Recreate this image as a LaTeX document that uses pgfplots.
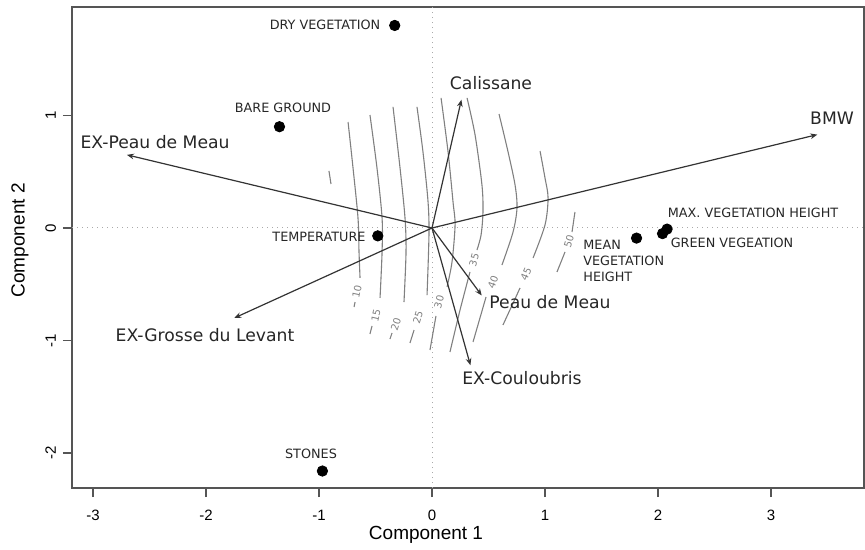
\documentclass[border=0pt]{standalone}
\usepackage{fontspec}
\setmainfont{Liberation Sans}
\newfontfamily\dejavu{DejaVu Sans}
\usepackage{pgfplots}
\pgfplotsset{compat=1.18}
\usetikzlibrary{arrows.meta}
\definecolor{arrowc}{HTML}{333333}
\definecolor{contc}{HTML}{808080}
\definecolor{framec}{HTML}{555555}
\definecolor{dotc}{HTML}{AAAAAA}
\begin{document}
\begin{tikzpicture}
\begin{axis}[
  scale only axis, width=396pt, height=240.5pt,
  xmin=-3.186, xmax=3.823, ymin=-2.311, ymax=1.964,
  axis line style={framec, line width=0.6pt},
  xtick={-3,-2,-1,0,1,2,3}, ytick={-2,-1,0,1},
  xtick pos=bottom, ytick pos=left,
  tick align=outside, major tick length=4.5pt,
  tick style={framec, line width=0.6pt},
  /pgf/number format/assume math mode=true,
  ticklabel style={font=\fontsize{7.5}{9}\selectfont},
  xticklabel style={yshift=-3pt},
  yticklabel style={rotate=90, anchor=south},
  xlabel={Component 1}, ylabel={Component 2},
  label style={font=\fontsize{9.5}{11}\selectfont},
  xlabel style={at={(axis description cs:0.447,-0.0977)}, anchor=center},
  ylabel style={at={(axis description cs:-0.0657,0.515)}, anchor=center},
]
% reference lines
\addplot[dotc, dotted, line width=0.5pt] coordinates {(0,-2.311) (0,1.964)};
\addplot[dotc, dotted, line width=0.5pt] coordinates {(-3.186,0) (3.823,0)};

% contours
\tikzset{cont/.style={contc, line width=0.55pt, smooth}}
\addplot[cont] coordinates {(-0.743,0.942) (-0.699,0.533) (-0.655,0.089) (-0.646,-0.213) (-0.637,-0.444)};
\addplot[cont] coordinates {(-0.681,-0.658) (-0.690,-0.702)};
\addplot[cont] coordinates {(-0.549,1.004) (-0.487,0.533) (-0.442,0.089) (-0.442,-0.213) (-0.460,-0.622)};
\addplot[cont] coordinates {(-0.531,-0.871) (-0.549,-0.942)};
\addplot[cont] coordinates {(-0.345,1.076) (-0.283,0.533) (-0.239,0.089) (-0.230,-0.213) (-0.248,-0.658)};
\addplot[cont] coordinates {(-0.354,-0.933) (-0.372,-0.987)};
\addplot[cont] coordinates {(-0.133,1.076) (-0.080,0.676) (-0.035,0.231) (-0.027,-0.062) (-0.044,-0.596)};
\addplot[cont] coordinates {(-0.159,-0.907) (-0.195,-1.022)};
\addplot[cont] coordinates {(0.080,1.156) (0.142,0.676) (0.186,0.231) (0.204,0.027) (0.177,-0.302) (0.133,-0.524)};
\addplot[cont] coordinates {(0.035,-0.782) (-0.018,-1.084)};
\addplot[cont] coordinates {(0.310,1.156) (0.381,0.827) (0.442,0.382) (0.451,0.142) (0.434,-0.062) (0.398,-0.196)};
\addplot[cont] coordinates {(0.336,-0.391) (0.248,-0.729) (0.159,-1.102)};
\addplot[cont] coordinates {(0.593,1.013) (0.673,0.676) (0.735,0.382) (0.752,0.178) (0.717,-0.036) (0.619,-0.329)};
\addplot[cont] coordinates {(0.478,-0.613) (0.363,-1.013)};
\addplot[cont] coordinates {(0.956,0.684) (1.000,0.444) (1.027,0.267) (1.000,0.027) (0.894,-0.267)};
\addplot[cont] coordinates {(0.779,-0.533) (0.628,-0.862)};
\addplot[cont] coordinates {(1.265,0.142) (1.239,-0.036)};
\addplot[cont] coordinates {(1.177,-0.213) (1.106,-0.391)};
\addplot[cont] coordinates {(-0.912,0.507) (-0.894,0.391)};

\tikzset{clab/.style={font=\dejavu\fontsize{5}{6}\selectfont, text=contc, inner sep=0pt}}
\node[clab, rotate=78] at (axis cs:-0.664,-0.569) {10};
\node[clab, rotate=77] at (axis cs:-0.496,-0.782) {15};
\node[clab, rotate=72] at (axis cs:-0.319,-0.853) {20};
\node[clab, rotate=73] at (axis cs:-0.124,-0.791) {25};
\node[clab, rotate=75] at (axis cs:0.062,-0.658) {30};
\node[clab, rotate=75] at (axis cs:0.372,-0.284) {35};
\node[clab, rotate=69] at (axis cs:0.540,-0.480) {40};
\node[clab, rotate=66] at (axis cs:0.832,-0.409) {45};
\node[clab, rotate=73] at (axis cs:1.212,-0.116) {50};

% arrows
\tikzset{arr/.style={arrowc, line width=0.6pt, -{Stealth[length=3.5pt,width=2.8pt]}}}
\addplot[arr] coordinates {(0,0) (0.26,1.14)};
\addplot[arr] coordinates {(0,0) (3.41,0.83)};
\addplot[arr] coordinates {(0,0) (-2.70,0.65)};
\addplot[arr] coordinates {(0,0) (-1.75,-0.80)};
\addplot[arr] coordinates {(0,0) (0.44,-0.60)};
\addplot[arr] coordinates {(0,0) (0.34,-1.22)};

\tikzset{alab/.style={font=\dejavu\fontsize{8.6}{10}\selectfont, text=black!85, inner sep=0pt}}
\node[alab] at (axis cs:0.522,1.289) {Calissane};
\node[alab] at (axis cs:3.540,0.978) {BMW};
\node[alab] at (axis cs:-2.451,0.760) {EX-Peau de Meau};
\node[alab] at (axis cs:-2.009,-0.951) {EX-Grosse du Levant};
\node[alab] at (axis cs:1.044,-0.658) {Peau de Meau};
\node[alab] at (axis cs:0.796,-1.333) {EX-Couloubris};

% points
\addplot[only marks, mark=*, mark size=2.6pt, black] coordinates {
(-0.33,1.80) (-1.35,0.90) (-0.48,-0.07) (-0.97,-2.16) (1.81,-0.09) (2.08,-0.01) (2.04,-0.05)};

\tikzset{plab/.style={font=\dejavu\fontsize{6.4}{8}\selectfont, text=black!85, inner sep=0pt}}
\node[plab] at (axis cs:-0.947,1.804) {DRY VEGETATION};
\node[plab] at (axis cs:-1.319,1.067) {BARE GROUND};
\node[plab] at (axis cs:-1.000,-0.080) {TEMPERATURE};
\node[plab] at (axis cs:-1.071,-2.009) {STONES};
\node[plab] at (axis cs:2.841,0.133) {MAX. VEGETATION HEIGHT};
\node[plab] at (axis cs:2.655,-0.133) {GREEN VEGEATION};
\node[plab, align=left, anchor=west, font=\dejavu\fontsize{6.4}{8.2}\selectfont] at (axis cs:1.336,-0.293) {MEAN\\VEGETATION\\HEIGHT};
\end{axis}
\pgfresetboundingbox
\path ([shift={(-36pt,-30.5pt)}]current axis.south west) rectangle ([shift={(0.5pt,3.5pt)}]current axis.north east);
\end{tikzpicture}
\end{document}
